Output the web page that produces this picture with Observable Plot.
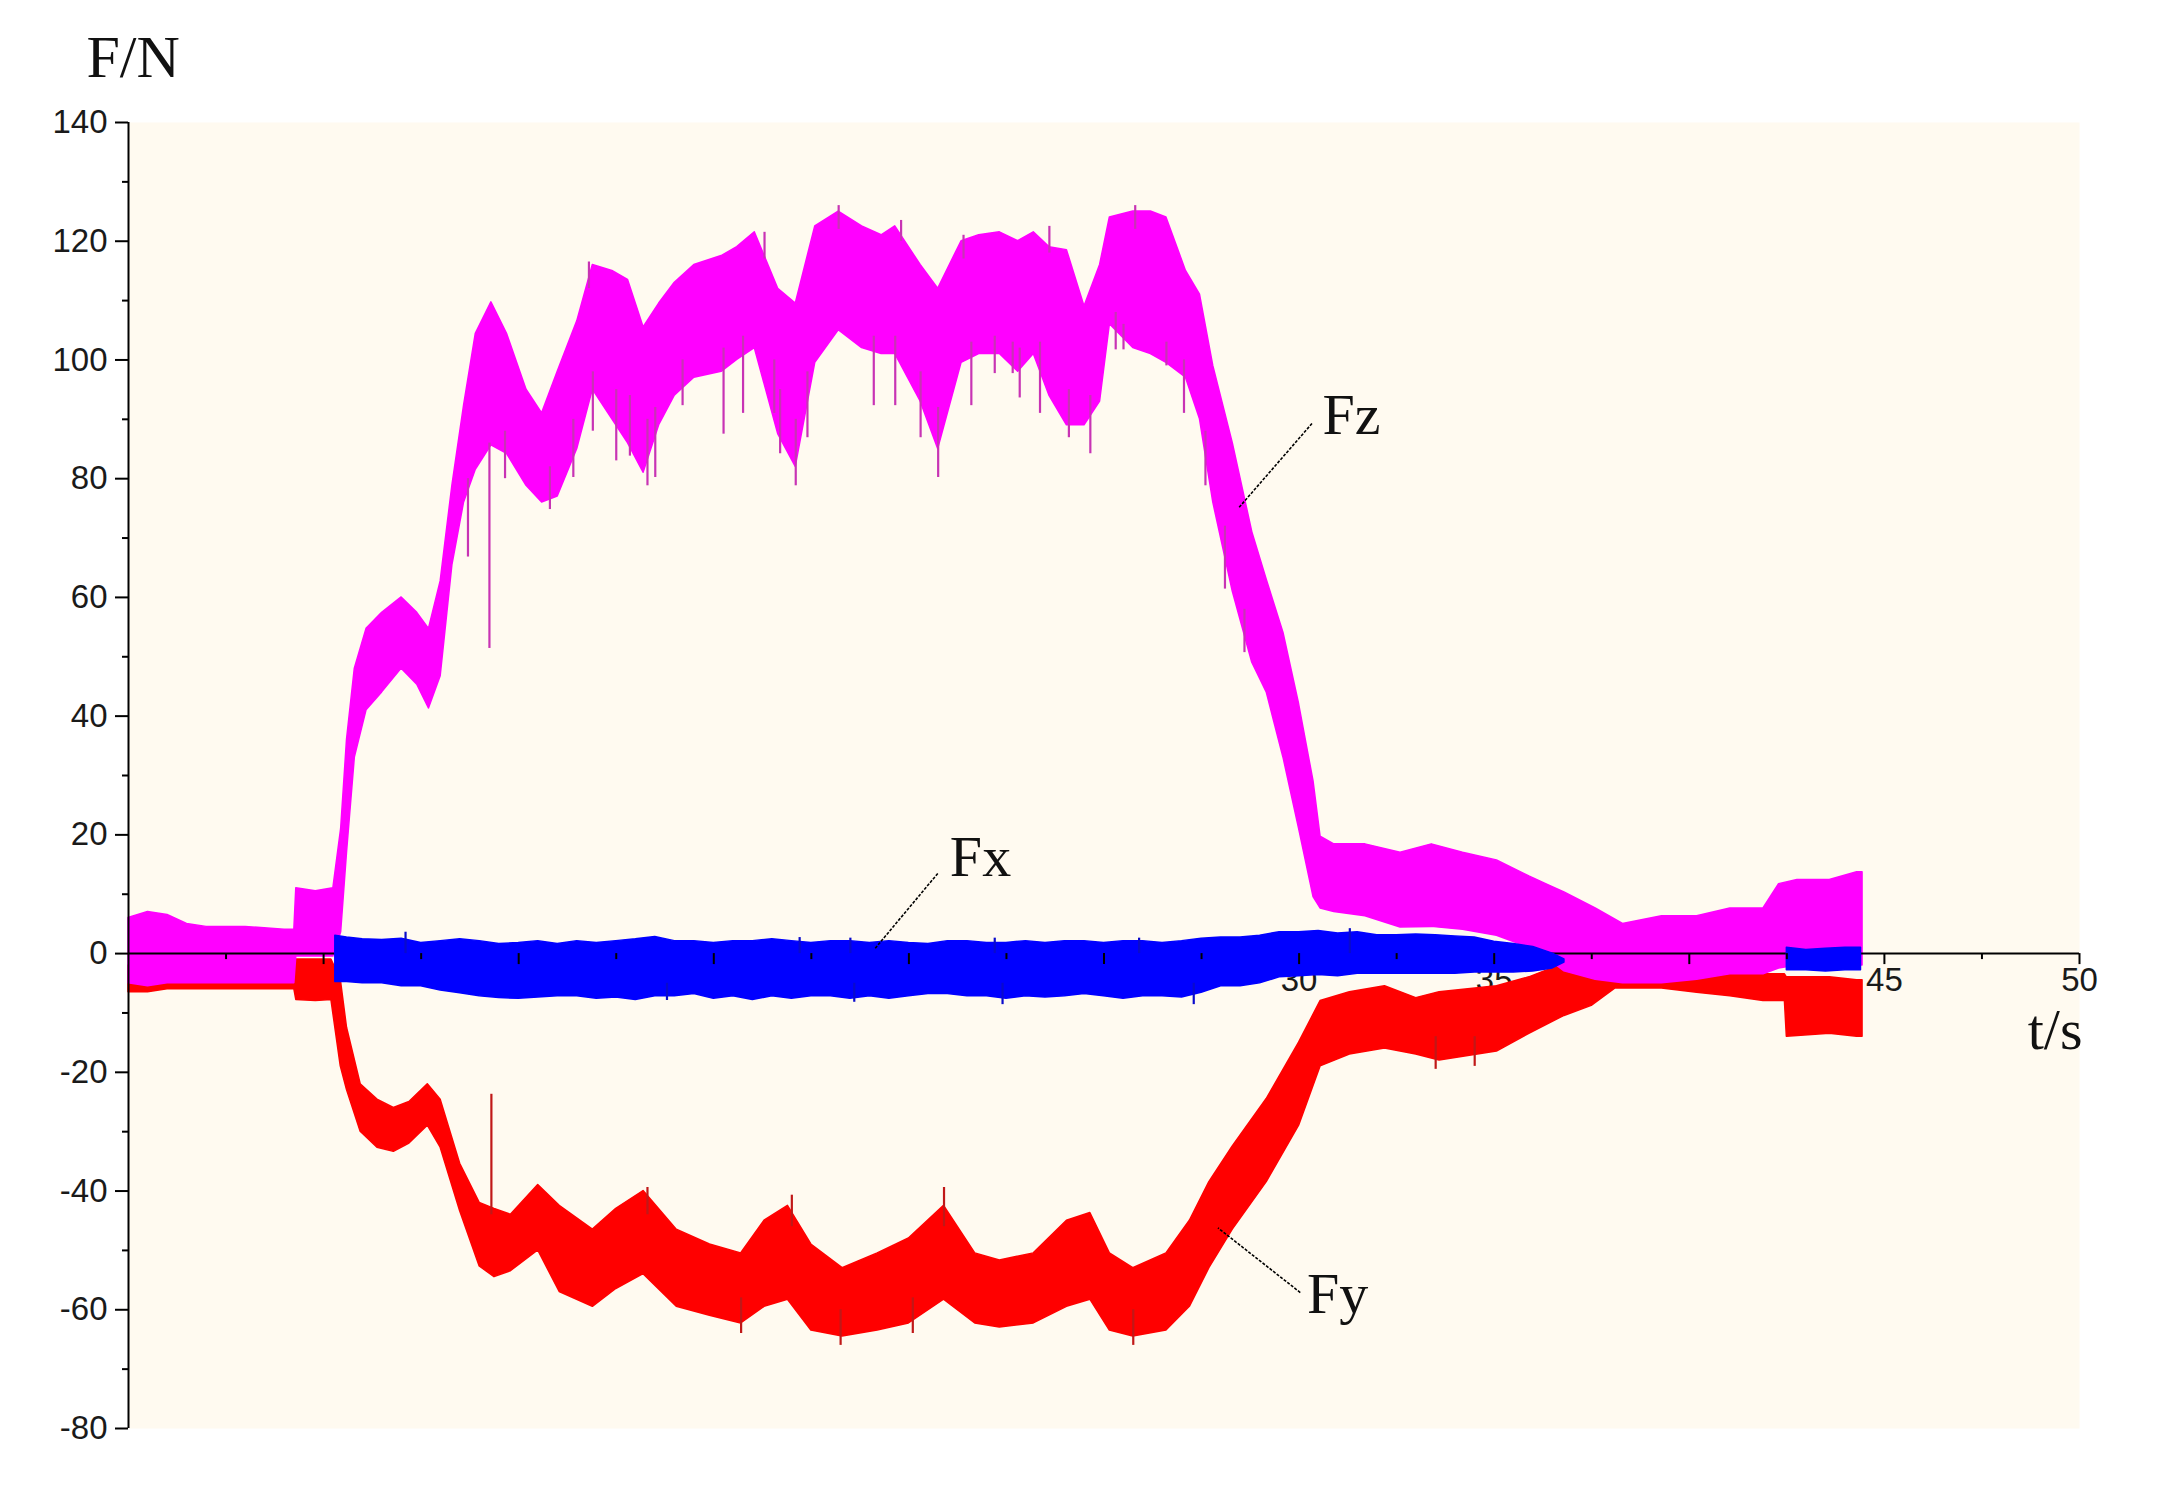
<!DOCTYPE html>
<html>
<head>
<meta charset="utf-8">
<script src="https://cdn.jsdelivr.net/npm/d3@7"></script>
<script src="https://cdn.jsdelivr.net/npm/@observablehq/plot@0.6"></script>
<style>
html, body { margin: 0; padding: 0; background: #ffffff; }
#chart svg { display: block; }
</style>
</head>
<body>
<div id="chart"></div>
<script>
// ---- Fz (magenta): time (s), lower and upper envelope of the noisy signal (N)
const fzT = [
  0, 0.5, 1, 1.5, 2, 3, 4, 4.25, 4.3, 4.8,
  5.25, 5.45, 5.6, 5.8, 6.1, 6.5, 7.0, 7.4, 7.7, 8.0,
  8.3, 8.6, 8.9, 9.3, 9.7, 10.2, 10.6, 11.0, 11.5, 11.9,
  12.4, 12.8, 13.2, 13.6, 14.0, 14.5, 15.2, 15.6, 16.05, 16.65,
  17.1, 17.6, 18.2, 18.8, 19.3, 19.65, 20.3, 20.75, 21.35, 21.8,
  22.33, 22.8, 23.2, 23.6, 24.05, 24.5, 24.9, 25.15, 25.75, 26.2,
  26.6, 27.1, 27.46, 27.8, 28.3, 28.8, 29.17, 29.6, 30.0, 30.37,
  30.55, 30.9, 31.7, 32.6, 33.4, 34.2, 35.07, 35.9, 36.4, 36.8,
  37.6, 38.3, 39.3, 40.2, 41.05, 41.9, 42.3, 42.77, 43.6, 44.3, 44.44];
const fzLo = [
  -5, -5.5, -5, -5, -5, -5, -5, -5, -0.5, -0.5,
  -0.5, 3.6, 17, 33, 41, 44, 48, 45.3, 41.3, 46.7,
  65.4, 76, 81.5, 85.6, 84.2, 78.8, 76, 77, 85, 95,
  90, 86, 81, 89, 94, 97, 98, 100, 102, 87.5,
  82, 99.5, 105, 102, 101, 101, 93, 85, 99.5, 101,
  101, 98, 101, 94, 89, 89, 93, 106, 102, 101,
  99.5, 97, 90, 76, 61, 49, 44, 33, 21, 9.5,
  7.6, 7, 6.3, 4.4, 4.5, 4, 3, 1, -1, -3,
  -4.4, -5, -5, -4.4, -3.5, -3.5, -2.5, -2, -2, -2, -2];
const fzHi = [
  6, 7, 6.5, 5, 4.5, 4.5, 4, 4, 11, 10.5,
  11, 21, 36, 48, 54.7, 57.4, 60, 57.4, 54.7, 62.7,
  78.8, 92.3, 104.4, 109.7, 104.4, 95, 91, 98, 106.5, 116,
  115, 113.5, 105.5, 109.5, 113, 116, 117.5, 119, 121.5, 112,
  109.5, 122.5, 125, 122.5, 121, 122.5, 116, 112, 120, 121,
  121.5, 120, 121.5, 119, 118.5, 109, 116, 124, 125, 125,
  124, 115, 111, 99, 86, 71, 63, 54, 42, 29,
  19.7, 18.4, 18.4, 17, 18.4, 17, 15.7, 13, 11.5, 10.3,
  7.6, 5, 6.3, 6.3, 7.6, 7.6, 11.7, 12.4, 12.4, 13.7, 13.7];

// ---- Fx (blue); NaN marks the gap where the trace is absent
const fxT = [
  5.3, 5.6, 6.0, 6.5, 7.0, 7.5, 8.0, 8.5, 9.0, 9.5,
  10.0, 10.5, 11.0, 11.5, 12.0, 12.5, 13.0, 13.5, 14.0, 14.5,
  15.0, 15.5, 16.0, 16.5, 17.0, 17.5, 18.0, 18.5, 19.0, 19.5,
  20.0, 20.5, 21.0, 21.5, 22.0, 22.5, 23.0, 23.5, 24.0, 24.5,
  25.0, 25.5, 26.0, 26.5, 27.0, 27.5, 28.0, 28.5, 29.0, 29.5,
  30.0, 30.5, 31.0, 31.5, 32.0, 32.5, 33.0, 33.5, 34.0, 34.5,
  35.0, 35.5, 36.0, 36.5, 36.8, 39.5, 42.5, 43.0, 43.5, 44.0, 44.4];
const fxLo = [
  -4.8, -4.8, -5, -5, -5.5, -5.5, -6.2, -6.7, -7.2, -7.5,
  -7.6, -7.4, -7.2, -7.2, -7.6, -7.4, -7.8, -7.2, -7.2, -6.8,
  -7.6, -7.2, -7.8, -7.2, -7.6, -7.2, -7.2, -7.6, -7.2, -7.6,
  -7.2, -6.8, -6.8, -7.2, -7.2, -7.6, -7.2, -7.4, -7.2, -6.8,
  -7.2, -7.6, -7.2, -7.2, -7.4, -6.6, -5.5, -5.5, -5, -4,
  -3.8, -3.6, -3.8, -3.4, -3.4, -3.4, -3.4, -3.4, -3.4, -3.2,
  -3.2, -3.2, -3, -2.5, -1.5, NaN, -2.8, -2.8, -3, -2.8, -2.8];
const fxHi = [
  3, 2.7, 2.4, 2.3, 2.5, 1.8, 2.1, 2.4, 2.1, 1.6,
  1.8, 2.1, 1.6, 2.1, 1.8, 2.1, 2.4, 2.8, 2.1, 2.1,
  1.8, 2.1, 2.1, 2.4, 2.1, 1.8, 2.1, 2.1, 1.8, 2.1,
  1.8, 1.6, 2.1, 2.1, 1.8, 1.8, 2.1, 1.8, 2.1, 2.1,
  1.8, 2.1, 2.1, 1.8, 2.1, 2.5, 2.7, 2.7, 3, 3.6,
  3.6, 3.8, 3.4, 3.6, 3.1, 3.1, 3.2, 3.1, 2.9, 2.7,
  2, 1.6, 1.1, 0, -1, NaN, 1, 0.6, 0.8, 1, 1];

// ---- Fy (red)
const fyT = [
  0, 0.5, 1, 2, 3, 4, 4.25, 4.3, 4.8, 5.2,
  5.44, 5.6, 5.95, 6.38, 6.8, 7.2, 7.67, 8.0, 8.5, 9.0,
  9.38, 9.8, 10.5, 11.05, 11.9, 12.5, 13.2, 14.05, 14.9, 15.7,
  16.3, 16.9, 17.5, 18.3, 19.2, 20.0, 20.9, 21.7, 22.33, 23.2,
  24.05, 24.65, 25.15, 25.75, 26.6, 27.2, 27.7, 28.3, 29.17, 30.0,
  30.55, 31.3, 32.2, 33.0, 33.6, 35.07, 35.9, 36.8, 37.5, 38.1,
  39.3, 40.2, 41.05, 41.9, 42.45, 42.5, 43.6, 44.3, 44.44];
const fyLo = [
  -6.5, -6.5, -6, -6, -6, -6, -6, -7.8, -8, -7.8,
  -19, -23, -30, -32.7, -33.4, -32, -29, -32.7, -43.4, -52.7,
  -54.5, -53.5, -50, -57, -59.5, -56.5, -54, -59.5, -61, -62.3,
  -59.5, -58.3, -63.5, -64.5, -63.5, -62.3, -58.3, -62.3, -63, -62.3,
  -59.5, -58.3, -63.5, -64.5, -63.5, -59.5, -53, -46.5, -38.5, -29,
  -19, -17, -16, -17, -18, -16.5, -13.5, -10.5, -8.8, -5.9,
  -5.9, -6.6, -7.2, -8, -8, -14, -13.5, -14, -14];
const fyHi = [
  -2, -2, -2, -2, -2, -2, -2, -1, -1, -1,
  -4.4, -12.5, -22, -24.6, -26, -25, -22, -24.6, -35.4, -42,
  -43, -44, -39, -42.5, -46.5, -43, -40, -46.5, -49, -50.5,
  -45, -42.5, -49, -53, -50.5, -48, -42.5, -50.5, -51.7, -50.5,
  -45, -43.7, -50.5, -53, -50.5, -45, -38.5, -32.5, -24.5, -15,
  -8, -6.5, -5.5, -7.5, -6.5, -5.5, -4, -1.7, -1.7, -2,
  -2, -2.5, -3, -3.5, -3.5, -4, -4, -4.5, -4.5];

// ---- isolated spikes (time, value inside the band, spike tip)
const fzSpikeT = [8.7, 9.25, 9.65, 10.8, 11.4, 11.9, 12.5, 12.85, 13.3, 13.5, 14.2, 15.25, 15.75, 16.55, 16.7, 17.1, 17.4, 19.1, 19.65, 20.3, 20.75, 21.6, 22.2, 22.66, 22.84, 23.36, 24.1, 24.65, 25.3, 25.5, 26.6, 27.05, 27.6, 28.1, 28.6,
  11.8, 16.3, 18.2, 19.8, 21.4, 23.6, 25.8];
const fzSpikeBase = [80, 86, 88, 82, 90, 98, 95, 94, 90, 92, 100, 102, 104, 100, 95, 90, 98, 104, 104, 98, 92, 103, 104, 103, 102, 103, 95, 94, 108, 106, 103, 100, 88, 72, 58,
  112, 117, 122, 120, 117, 118, 122];
const fzSpikeTip = [66.8, 51.4, 80, 74.8, 80.2, 88, 83, 83.8, 78.8, 80.2, 92.3, 87.5, 91, 91, 84.2, 78.8, 86.9, 92.3, 92.3, 86.9, 80.2, 92.3, 97.7, 97.7, 93.6, 91, 86.9, 84.2, 101.7, 101.7, 99, 91, 78.8, 61.4, 50.7,
  116.5, 121.5, 126, 123.5, 121, 122.5, 126];
const fySpikeT    = [9.3, 13.3, 17.0, 20.9, 15.7, 18.25, 20.1, 25.75, 33.5, 34.5];
const fySpikeBase = [-44, -44, -46, -46, -58, -60, -58, -60, -14, -14];
const fySpikeTip  = [-23.7, -39.4, -40.7, -39.4, -64, -66, -64, -66, -19.5, -19];
const fxSpikeT    = [7.1, 17.2, 18.5, 22.2, 25.9, 31.3, 13.8, 18.6, 22.4, 27.3];
const fxSpikeBase = [0, 0, 0, 0, 0, 0, -5, -5, -5, -5];
const fxSpikeTip  = [3.6, 2.7, 2.6, 2.6, 2.6, 4.2, -7.9, -8.2, -8.6, -8.6];

// ---- ticks
const xMajorTicks = [5, 10, 15, 20, 25, 30, 35, 40, 45, 50];
const xMinorTicks = [2.5, 7.5, 12.5, 17.5, 22.5, 27.5, 32.5, 37.5, 42.5, 47.5];
const yMajorTicks = [-80, -60, -40, -20, 0, 20, 40, 60, 80, 100, 120, 140];
const yMinorTicks = [-70, -50, -30, -10, 10, 30, 50, 70, 90, 110, 130];

// ---- annotations (data coordinates)
const seriesLabels = [
  {text: "Fz", x: 30.6, y: 87.6},
  {text: "Fx", x: 21.05, y: 13.1},
  {text: "Fy", x: 30.2, y: -60.5}
];
const leaders = [
  {x1: 30.33, y1: 89.3, x2: 28.44, y2: 75.0},
  {x1: 20.74, y1: 13.5, x2: 19.13, y2: 0.84},
  {x1: 30.03, y1: -57.1, x2: 27.92, y2: -46.2}
];
const axisTitles = [{text: "t/s", x: 50, y: -16}];

const band = (T, Lo, Hi) => T.map((t, i) => ({t, lo: Lo[i], hi: Hi[i]}));
const spikes = (T, B, S) => T.map((t, i) => ({t, base: B[i], tip: S[i]}));

const fz = band(fzT, fzLo, fzHi);
const fx = band(fxT, fxLo, fxHi);
const fy = band(fyT, fyLo, fyHi);

const serif = "'Liberation Serif', 'Times New Roman', serif";
const sans = "'Liberation Sans', Arial, sans-serif";

const chart = Plot.plot({
  width: 2182,
  height: 1490,
  marginLeft: 128,
  marginRight: 103,
  marginTop: 122,
  marginBottom: 62,
  x: {domain: [0, 50], axis: null},
  y: {domain: [-80, 140], axis: null},
  style: {fontFamily: sans, background: "#ffffff", overflow: "visible"},
  marks: [
    Plot.frame({fill: "#fffaf0", stroke: null}),
    // x tick labels (drawn beneath the traces, as in the original)
    Plot.text(xMajorTicks, {x: d => d, y: () => 0, text: d => String(d), dy: 27, fontSize: 33, fill: "#1a1a1a"}),
    // Fy
    Plot.areaY(fy, {x: "t", y1: "lo", y2: "hi", fill: "#ff0000", stroke: "#ff0000", strokeWidth: 1.5}),
    Plot.ruleX(spikes(fySpikeT, fySpikeBase, fySpikeTip), {x: "t", y1: "base", y2: "tip", stroke: "#c01818", strokeWidth: 2.2}),
    // Fz
    Plot.areaY(fz, {x: "t", y1: "lo", y2: "hi", fill: "#ff00ff", stroke: "#ff00ff", strokeWidth: 1.5}),
    Plot.ruleX(spikes(fzSpikeT, fzSpikeBase, fzSpikeTip), {x: "t", y1: "base", y2: "tip", stroke: "#c833b4", strokeWidth: 2.2}),
    // zero line (x axis)
    Plot.ruleY([0], {stroke: "#000", strokeWidth: 2}),
    // Fx
    Plot.areaY(fx, {x: "t", y1: "lo", y2: "hi", fill: "#0000ff", stroke: "#0000ff", strokeWidth: 1.5}),
    Plot.ruleX(spikes(fxSpikeT, fxSpikeBase, fxSpikeTip), {x: "t", y1: "base", y2: "tip", stroke: "#0a0acc", strokeWidth: 2.2}),
    // x ticks
    Plot.ruleX(xMajorTicks, {x: d => d, y1: () => 0, y2: () => 0, insetBottom: -11, stroke: "#000", strokeWidth: 2}),
    Plot.ruleX(xMinorTicks, {x: d => d, y1: () => 0, y2: () => 0, insetBottom: -6, stroke: "#000", strokeWidth: 2}),
    // y axis
    Plot.ruleX([0], {stroke: "#000", strokeWidth: 2}),
    Plot.axisY({ticks: yMajorTicks, anchor: "left", label: null, tickSize: 13, tickPadding: 8, fontSize: 33, tickFormat: d => String(d), stroke: "#000", strokeWidth: 2, fill: "#1a1a1a"}),
    Plot.axisY({ticks: yMinorTicks, anchor: "left", label: null, tickSize: 6, tickFormat: () => "", stroke: "#000", strokeWidth: 2}),
    // leaders and labels
    Plot.link(leaders, {x1: "x1", y1: "y1", x2: "x2", y2: "y2", stroke: "#000", strokeWidth: 1.6, strokeDasharray: "3 1.5"}),
    Plot.text(seriesLabels, {x: "x", y: "y", text: "text", textAnchor: "start", lineAnchor: "bottom", fontSize: 58, fontFamily: serif, fill: "#111"}),
    Plot.text(axisTitles, {x: "x", y: "y", text: "text", textAnchor: "end", lineAnchor: "bottom", dx: 3, fontSize: 58, fontFamily: serif, fill: "#111"}),
    Plot.text(["F/N"], {frameAnchor: "top-left", text: d => d, textAnchor: "start", lineAnchor: "bottom", dx: -42, dy: -46, fontSize: 60, fontFamily: serif, fill: "#111"})
  ]
});

document.getElementById("chart").appendChild(chart);
</script>
</body>
</html>
